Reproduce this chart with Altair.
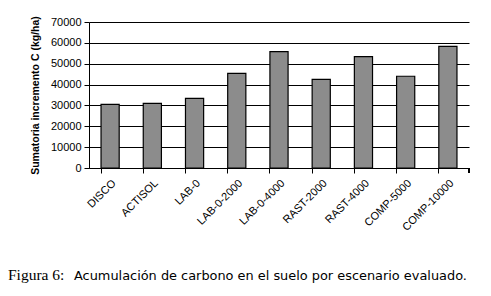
import altair as alt
import pandas as pd

categories = ["DISCO", "ACTISOL", "LAB-0", "LAB-0-2000", "LAB-0-4000",
              "RAST-2000", "RAST-4000", "COMP-5000", "COMP-10000"]
values = [30500, 31000, 33400, 45400, 55800, 42500, 53400, 44000, 58300]
y_ticks = [0, 10000, 20000, 30000, 40000, 50000, 60000, 70000]
caption_label = ["Figura 6:"]
caption_text = ["Acumulación de carbono en el suelo por escenario evaluado."]

df = pd.DataFrame({"cat": categories, "val": values})
cap_df = pd.DataFrame({"label": caption_label, "text": caption_text})

W, H = 380, 146

bars = alt.Chart(df).mark_bar(color="#8c8c8c", stroke="black", strokeWidth=1.2).encode(
    x=alt.X("cat:N", sort=categories, title=None,
            scale=alt.Scale(paddingInner=0.57, paddingOuter=0.285),
            axis=alt.Axis(labelAngle=-45, labelFont="Liberation Sans", labelFontSize=11,
                          labelColor="black", domainColor="black", tickColor="black",
                          tickSize=5, bandPosition=0, labelPadding=4, grid=False)),
    y=alt.Y("val:Q", title="Sumatoria incremento C (kg/ha)",
            scale=alt.Scale(domain=[0, 70000], nice=False),
            axis=alt.Axis(values=y_ticks, format="d", labelFont="Liberation Sans",
                          labelFontSize=11, labelColor="black", titleFont="Liberation Sans",
                          titleFontSize=10.5, titleFontWeight="bold", titleColor="black",
                          titlePadding=10, domainColor="black", tickColor="black",
                          tickSize=5, gridColor="black", gridWidth=1.2, gridOpacity=1,
                          labelPadding=3)),
)

end_tick = alt.Chart(df).mark_rule(color="black").encode(
    x=alt.value(W), y=alt.value(H), y2=alt.value(H + 5))

cap1 = alt.Chart(cap_df).mark_text(
    align="left", baseline="alphabetic", font="Liberation Serif", fontSize=15.5,
    fontWeight="normal", color="black").encode(
    x=alt.value(-81), y=alt.value(258), text="label:N")

cap2 = alt.Chart(cap_df).mark_text(
    align="left", baseline="alphabetic", font="DejaVu Sans", fontSize=12.9,
    color="black").encode(
    x=alt.value(-15), y=alt.value(258), text="text:N")

chart = alt.layer(bars, end_tick, cap1, cap2).properties(
    width=W, height=H,
    autosize=alt.AutoSizeParams(type="none"),
    padding={"left": 81, "top": 14, "right": 14, "bottom": 120},
).configure_view(stroke=None)

chart.save("out.html", embed_options={"renderer": "svg", "actions": False})
